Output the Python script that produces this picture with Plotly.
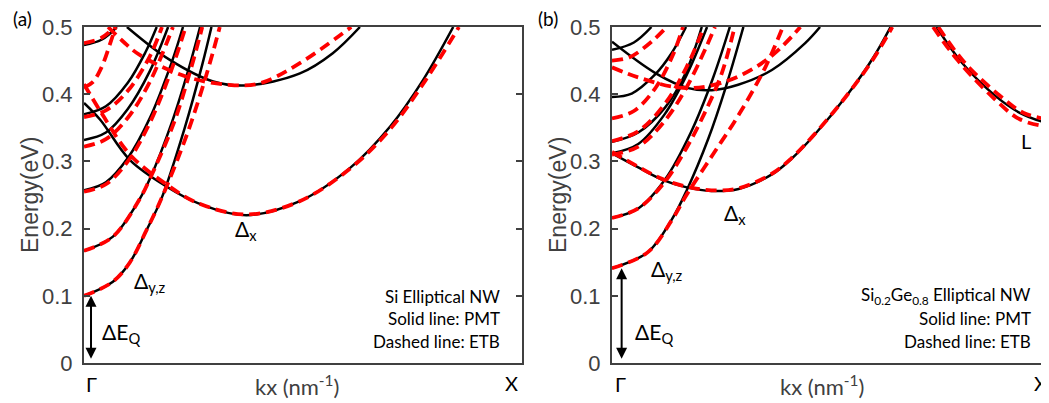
import plotly.graph_objects as go

# ---------------- data (kx normalised: 0 = Gamma, 1 = X ; energy in eV) ----------------
# Panel (a): Si elliptical NW
a_pmt_x = [
    [0, 0.066, 0.105, 0.143, 0.177, 0.23, 0.27, 0.291],
    [0, 0.066, 0.128, 0.151, 0.2, 0.24, 0.265],
    [0, 0.05, 0.1, 0.15, 0.2, 0.226],
    [0, 0.05, 0.1, 0.15, 0.192],
    [0, 0.05, 0.1, 0.14, 0.166],
    [0, 0.04, 0.075],
    [0, 0.037, 0.105, 0.19, 0.26, 0.371, 0.49, 0.607, 0.699, 0.774, 0.843],
    [0.098, 0.196, 0.295, 0.371, 0.493, 0.568, 0.63],
]
a_pmt_e = [
    [0.100, 0.121, 0.150, 0.198, 0.245, 0.35, 0.444, 0.5],
    [0.167, 0.188, 0.245, 0.275, 0.357, 0.44, 0.5],
    [0.257, 0.269, 0.305, 0.364, 0.447, 0.5],
    [0.332, 0.343, 0.378, 0.434, 0.5],
    [0.37, 0.382, 0.417, 0.462, 0.5],
    [0.473, 0.481, 0.5],
    [0.387, 0.362, 0.302, 0.262, 0.238, 0.220, 0.240, 0.29, 0.352, 0.421, 0.5],
    [0.5, 0.451, 0.419, 0.413, 0.431, 0.461, 0.5],
]
a_etb_x = [
    [0, 0.066, 0.105, 0.143, 0.177, 0.235, 0.28, 0.31],
    [0, 0.066, 0.128, 0.151, 0.205, 0.245, 0.27],
    [0, 0.05, 0.1, 0.15, 0.2, 0.232],
    [0, 0.05, 0.1, 0.15, 0.203],
    [0, 0.05, 0.1, 0.15, 0.178],
    [0, 0.04, 0.07],
    [0, 0.02, 0.04, 0.06, 0.072],
    [0, 0.037, 0.105, 0.19, 0.26, 0.371, 0.49, 0.607, 0.699, 0.78, 0.856],
    [0.055, 0.09, 0.128, 0.234, 0.33, 0.40, 0.49, 0.61],
]
a_etb_e = [
    [0.100, 0.121, 0.150, 0.198, 0.245, 0.34, 0.43, 0.5],
    [0.167, 0.188, 0.245, 0.275, 0.357, 0.44, 0.5],
    [0.255, 0.266, 0.30, 0.357, 0.437, 0.5],
    [0.322, 0.333, 0.365, 0.418, 0.5],
    [0.366, 0.376, 0.405, 0.456, 0.5],
    [0.476, 0.484, 0.5],
    [0.41, 0.418, 0.44, 0.476, 0.5],
    [0.415, 0.375, 0.31, 0.265, 0.238, 0.221, 0.240, 0.289, 0.348, 0.421, 0.5],
    [0.5, 0.478, 0.458, 0.426, 0.414, 0.416, 0.445, 0.5],
]

# Panel (b): Si0.2Ge0.8 elliptical NW
b_pmt_x = [
    [0, 0.082, 0.136, 0.17, 0.22, 0.26, 0.30],
    [0, 0.06, 0.121, 0.18, 0.23, 0.269],
    [0, 0.06, 0.12, 0.17, 0.217],
    [0, 0.06, 0.121, 0.167, 0.205],
    [0, 0.045, 0.098, 0.136, 0.169],
    [0, 0.05, 0.09],
    [0, 0.06, 0.114, 0.173, 0.227, 0.289, 0.366, 0.41, 0.459, 0.536, 0.597, 0.636],
    [0, 0.1, 0.174, 0.228, 0.288, 0.365, 0.441, 0.475],
    [0.741, 0.80, 0.878, 0.932, 0.993, 1.0],
]
b_pmt_e = [
    [0.141, 0.165, 0.213, 0.256, 0.334, 0.411, 0.5],
    [0.216, 0.23, 0.273, 0.343, 0.423, 0.5],
    [0.312, 0.326, 0.37, 0.428, 0.5],
    [0.329, 0.343, 0.38, 0.43, 0.5],
    [0.396, 0.401, 0.429, 0.461, 0.5],
    [0.466, 0.477, 0.5],
    [0.312, 0.291, 0.273, 0.261, 0.256, 0.259, 0.281, 0.304, 0.337, 0.398, 0.455, 0.5],
    [0.478, 0.431, 0.409, 0.406, 0.414, 0.436, 0.476, 0.5],
    [0.5, 0.446, 0.396, 0.372, 0.357, 0.356],
]
b_etb_x = [
    [0, 0.082, 0.136, 0.17, 0.23, 0.29, 0.35, 0.39],
    [0, 0.06, 0.121, 0.17, 0.21, 0.25, 0.28],
    [0, 0.06, 0.12, 0.17, 0.215, 0.235],
    [0, 0.06, 0.12, 0.17, 0.21],
    [0, 0.05, 0.1, 0.14, 0.162],
    [0, 0.04, 0.09, 0.125],
    [0, 0.06, 0.15, 0.22, 0.30, 0.37, 0.43],
    [0, 0.06, 0.114, 0.173, 0.227, 0.289, 0.366, 0.41, 0.459, 0.536, 0.597, 0.64],
    [0.733, 0.79, 0.87, 0.93, 0.99, 1.0],
    [0.745, 0.805, 0.885, 0.94, 1.0],
]
b_etb_e = [
    [0.141, 0.165, 0.212, 0.25, 0.31, 0.37, 0.44, 0.5],
    [0.216, 0.23, 0.27, 0.32, 0.37, 0.43, 0.5],
    [0.31, 0.322, 0.36, 0.41, 0.47, 0.5],
    [0.33, 0.345, 0.385, 0.44, 0.5],
    [0.364, 0.375, 0.41, 0.46, 0.5],
    [0.45, 0.455, 0.478, 0.5],
    [0.44, 0.425, 0.41, 0.412, 0.43, 0.46, 0.5],
    [0.314, 0.292, 0.274, 0.262, 0.257, 0.26, 0.282, 0.305, 0.338, 0.398, 0.453, 0.5],
    [0.5, 0.45, 0.395, 0.363, 0.352, 0.352],
    [0.5, 0.447, 0.398, 0.372, 0.362],
]

panel_tags = ["(a)", "(b)"]
panel_titles = ["Si Elliptical NW", "Si<sub>0.2</sub>Ge<sub>0.8</sub> Elliptical NW"]
legend_lines = ["Solid line: PMT", "Dashed line: ETB"]
ytick_vals = [0, 0.1, 0.2, 0.3, 0.4, 0.5]
ytick_text = ["0", "0.1", "0.2", "0.3", "0.4", "0.5"]
k_labels = ["Γ", "X"]
x_title = "kx (nm<sup>-1</sup>)"
y_title = "Energy(eV)"

# ---------------- figure ----------------
W, H = 1049, 403
OFF = 8  # the page body adds an 8px margin; lay out in viewport pixels minus this offset
fig = go.Figure()

AX = "#404040"
TXT = "Lato"
TICKF = "Liberation Sans"

def px(xp):
    return (xp - OFF) / W

def py(yp):
    return (H - (yp - OFF)) / H

def add_bands(xs, es, xref, yref, etb):
    for x, e in zip(xs, es):
        if etb:
            line = dict(color="#ff0000", width=3.8, dash="11px,6px", shape="spline")
        else:
            line = dict(color="black", width=2.5, shape="spline")
        fig.add_trace(go.Scatter(x=x, y=e, mode="lines", line=line, xaxis=xref,
                                 yaxis=yref, showlegend=False, hoverinfo="skip"))

add_bands(a_pmt_x, a_pmt_e, "x", "y", False)
add_bands(b_pmt_x, b_pmt_e, "x2", "y2", False)
add_bands(a_etb_x, a_etb_e, "x", "y", True)
add_bands(b_etb_x, b_etb_e, "x2", "y2", True)

dom_a = [px(84), px(522)]
dom_b = [px(612), px(1050)]
dom_y = [py(363), py(27)]

xcommon = dict(range=[0, 1], showticklabels=False, ticks="", showgrid=False, zeroline=False,
               showline=True, linecolor=AX, linewidth=2, mirror=True, automargin=False)
ycommon = dict(range=[0, 0.5], tickvals=ytick_vals, ticktext=ytick_text, ticks="inside",
               ticklen=6, tickwidth=1.5, tickcolor=AX, showgrid=False, zeroline=False,
               showline=True, linecolor=AX, linewidth=2, mirror="ticks", automargin=False,
               ticklabelstandoff=5,
               tickfont=dict(family=TICKF, size=22, color=AX))

fig.update_layout(
    width=W, height=H, margin=dict(l=0, r=0, t=0, b=0, pad=0, autoexpand=False),
    plot_bgcolor="white", paper_bgcolor="white",
    xaxis=dict(domain=dom_a, anchor="y", **xcommon),
    yaxis=dict(domain=dom_y, anchor="x", **ycommon),
    xaxis2=dict(domain=dom_b, anchor="y2", **xcommon),
    yaxis2=dict(domain=dom_y, anchor="x2", **ycommon),
)

ann = []
pan = [dict(xr="x", yr="y", e0=a_pmt_e[0][0], xbox=0.954, xarrow=0.016,
            gam=91, xlab=511, tag=22, xt=297, yt=30),
       dict(xr="x2", yr="y2", e0=b_pmt_e[0][0], xbox=0.961, xarrow=0.022,
            gam=620, xlab=1040, tag=548, xt=822, yt=558)]
label_pos = [
    dict(dx=(0.37, 0.198), dyz=(0.15, 0.12), dq=(0.085, 0.045)),
    dict(dx=(0.28, 0.222), dyz=(0.125, 0.138), dq=(0.095, 0.045)),
]
for i, p in enumerate(pan):
    xr, yr = p["xr"], p["yr"]
    # double arrow for Delta E_Q (from 0 up to the lowest band at Gamma)
    ann.append(dict(x=p["xarrow"], y=p["e0"], ax=p["xarrow"], ay=0.004, xref=xr, yref=yr,
                    axref=xr, ayref=yr, showarrow=True, arrowhead=2, arrowside="end+start",
                    arrowsize=1.1, arrowwidth=2, arrowcolor="black", text=""))
    lp = label_pos[i]
    ann.append(dict(x=lp["dx"][0], y=lp["dx"][1], xref=xr, yref=yr, showarrow=False,
                    text="Δ<sub>x</sub>", font=dict(family=TXT, size=21, color="black")))
    ann.append(dict(x=lp["dyz"][0], y=lp["dyz"][1], xref=xr, yref=yr, showarrow=False,
                    text="Δ<sub>y,z</sub>", font=dict(family=TXT, size=21, color="black")))
    ann.append(dict(x=lp["dq"][0], y=lp["dq"][1], xref=xr, yref=yr, showarrow=False,
                    text="ΔE<sub>Q</sub>", font=dict(family=TXT, size=21, color="black")))
    # panel legend text
    for j, t in enumerate([panel_titles[i]] + legend_lines):
        ann.append(dict(x=p["xbox"], y=0.0997 - 0.0342 * j, xref=xr, yref=yr, showarrow=False,
                        xanchor="right", yanchor="middle", text=t,
                        font=dict(family=TXT, size=17, color="black")))
    # axis titles
    ann.append(dict(x=px(p["xt"]), y=py(385), xref="paper", yref="paper",
                    xanchor="center", yanchor="middle", showarrow=False, text=x_title,
                    font=dict(family=TXT, size=22, color=AX)))
    ann.append(dict(x=px(p["yt"]), y=py(195), xref="paper", yref="paper",
                    xanchor="center", yanchor="middle", showarrow=False, text=y_title,
                    textangle=-90, font=dict(family=TICKF, size=23, color=AX)))
    # k-point labels (below the axes -> paper coordinates)
    ann.append(dict(x=px(p["gam"]), y=py(384), xref="paper", yref="paper",
                    xanchor="center", yanchor="middle", showarrow=False, text=k_labels[0],
                    font=dict(family=TXT, size=20, color="black")))
    ann.append(dict(x=px(p["xlab"]), y=py(383), xref="paper", yref="paper",
                    xanchor="center", yanchor="middle", showarrow=False, text=k_labels[1],
                    font=dict(family=TXT, size=20, color="black")))
    # panel tag
    ann.append(dict(x=px(p["tag"]), y=py(18), xref="paper", yref="paper",
                    xanchor="center", yanchor="middle", showarrow=False, text=panel_tags[i],
                    font=dict(family=TXT, size=19, color="black")))

ann.append(dict(x=0.946, y=0.33, xref="x2", yref="y2", showarrow=False, text="L",
                font=dict(family=TXT, size=20, color="black")))
fig.update_layout(annotations=ann)

fig.write_html("out.html")
